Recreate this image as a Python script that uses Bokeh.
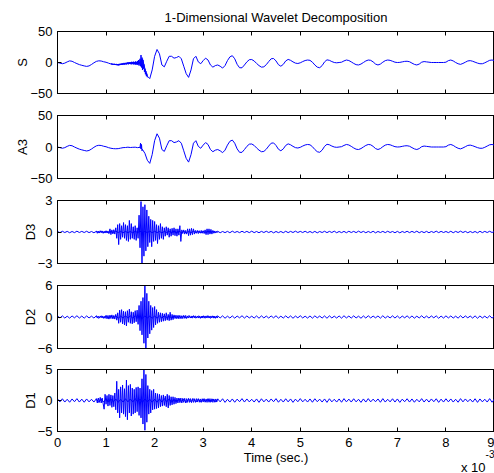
import numpy as np
from bokeh.plotting import figure
from bokeh.layouts import column
from bokeh.models import Range1d, FixedTicker, LinearAxis, Title
from bokeh.embed import file_html
from bokeh.resources import INLINE

FONT = "Liberation Sans"
BLUE = "#0000ff"

TITLE = "1-Dimensional Wavelet Decomposition"
X_TICKS = [0, 1, 2, 3, 4, 5, 6, 7, 8, 9]
PANEL_LABELS = ["S", "A3", "D3", "D2", "D1"]
PANEL_LIMITS = [50, 50, 3, 6, 5]
X_LABEL = "Time (sec.)"
X_SCALE_TEXT = "x 10"
X_SCALE_EXP = "-3"

# time grid (ms) for the 0.05 ms samples
t_grid = np.round(np.arange(181) * 0.05, 4)

# signal S (smooth part, 0.05 ms samples)
S = [0, -1.0, -2.0, -1.0, 1.0, 2.6, 2.0, 0.0, -1.8, -3.4, -4.5, -5.5, -6.3, -5.5, -3.2, -0.5, 1.8, 2.7, 2.4, 1.2,
     0.4, -1.0, -2.4, -3.0, -3.4, -3.8, -3.3, -2.4, -1.6, -1.0, -0.6, -0.6, -1.0, -1.6, -0.5, 6.0, -10.0, -22.0, -26.0, -12.0,
     10.0, 21.0, 14.0, -4.0, -7.0, 2.0, 10.0, 10.0, 7.0, 8.0, 10.0, 6.0, -6.0, -18.0, -24.0, -12.0, 6.0, 10.0, 1.0, -2.0,
     3.0, 7.0, 4.0, -4.0, -7.5, -5.0, -4.0, -6.0, -9.0, -5.0, 3.0, 9.0, 11.0, 6.0, -3.0, -8.5, -8.5, -4.0, 1.0, 4.5,
     4.8, 2.5, -1.5, -5.0, -7.5, -7.0, -3.5, 1.5, 6.0, 6.5, 2.5, -3.5, -6.0, -3.0, 2.5, 5.0, 3.5, 1.0, -1.0, -1.6,
     -0.5, 1.5, 3.2, 4.0, 3.5, 0.5, -4.0, -7.5, -8.4, -5.0, 1.0, 4.3, 3.5, 1.5, 0.0, -0.5, 0.0, 0.5, 2.5, 4.0,
     3.2, 1.0, -1.5, -3.5, -4.0, -2.5, 0.0, 2.5, 4.0, 3.5, 1.0, -2.5, -4.0, -2.5, 0.5, 3.0, 4.0, 3.5, 2.0, 0.5,
     0.0, 0.2, 1.0, 1.8, 2.0, 1.2, -1.0, -3.0, -4.0, -2.5, 0.5, 1.5, 1.0, 0.5, 0.0, 0.0, 0.0, 0.0, 0.0, 0.0,
     0.5, 3.0, 4.0, 2.5, 0.0, -2.0, -3.0, -1.5, 0.5, 2.5, 3.0, 2.0, 0.5, -1.0, -2.0, -2.0, -0.5, 1.5, 3.5, 4.0, 3.0]

# signal S, noisy stretch 1.10 - 1.85 ms (0.01 ms samples)
S_burst_start = 1.10
S_burst = [-2.4, -1.6, -3.2, -2.0, -3.4, -2.2, -3.6, -2.0, -3.8, -2.4,
           -4.0, -2.2, -4.2, -2.6, -4.4, -2.4, -4.6, -2.2, -4.2, -2.0,
           -4.0, -1.8, -3.6, -1.2, -3.8, -1.4, -3.2, -0.6, -3.4, -0.8,
           -3.0, -0.4, -3.2, -0.6, -2.6, 0.4, -3.0, 0.0, -2.4, 0.6,
           -2.6, 0.4, -3.0, 1.2, -2.2, 0.8, -3.2, 1.4, -2.6, 0.6,
           -3.6, 1.8, -3.0, 1.0, -4.0, 2.5, -3.5, 4.0, -5.0, 2.0,
           6.0, -6.0, 12.0, -8.0, 8.0, -12.0, 4.0, -10.0, -3.0, -15.0,
           -10.0, -19.0, -14.0, -22.0, -18.0, -24.0]

# approximation A3 (0.05 ms samples)
A3 = [0, -1.0, -2.0, -1.0, 1.0, 2.6, 2.0, 0.0, -1.8, -3.4, -4.5, -5.5, -6.3, -5.5, -3.2, -0.5, 1.8, 2.7, 2.4, 1.2,
      0.4, -1.0, -2.0, -2.6, -2.8, -2.6, -1.8, -1.0, -0.8, -0.3, -0.8, -0.5, -0.3, -1.0, -0.5, -4.0, -10.0, -21.0, -26.0, -12.0,
      10.0, 21.0, 14.0, -4.0, -7.0, 2.0, 10.0, 10.0, 7.0, 8.0, 10.0, 6.0, -6.0, -18.0, -24.0, -12.0, 6.0, 10.0, 1.0, -2.0,
      3.0, 7.0, 4.0, -4.0, -7.5, -5.0, -4.0, -6.0, -9.0, -5.0, 3.0, 9.0, 11.0, 6.0, -3.0, -8.5, -8.5, -4.0, 1.0, 4.5,
      4.8, 2.5, -1.5, -5.0, -7.5, -7.0, -3.5, 1.5, 6.0, 6.5, 2.5, -3.5, -6.0, -3.0, 2.5, 5.0, 3.5, 1.0, -1.0, -1.6,
      -0.5, 1.5, 3.2, 4.0, 3.5, 0.5, -4.0, -7.5, -8.4, -5.0, 1.0, 4.3, 3.5, 1.5, 0.0, -0.5, 0.0, 0.5, 2.5, 4.0,
      3.2, 1.0, -1.5, -3.5, -4.0, -2.5, 0.0, 2.5, 4.0, 3.5, 1.0, -2.5, -4.0, -2.5, 0.5, 3.0, 4.0, 3.5, 2.0, 0.5,
      0.0, 0.2, 1.0, 1.8, 2.0, 1.2, -1.0, -3.0, -4.0, -2.5, 0.5, 1.5, 1.0, 0.5, 0.0, 0.0, 0.0, 0.0, 0.0, 0.0,
      0.5, 3.0, 4.0, 2.5, 0.0, -2.0, -3.0, -1.5, 0.5, 2.5, 3.0, 2.0, 0.5, -1.0, -2.0, -2.0, -0.5, 1.5, 3.5, 4.0, 3.0]

# A3 small notch near 1.7 ms
A3_notch_t = [1.70, 1.71, 1.72, 1.73, 1.74, 1.75]
A3_notch = [-0.5, 6.0, -3.0, 4.0, -6.0, -4.0]

# detail noise floors (0.05 ms samples)
D3_floor = [0.05, -0.06, 0.07, -0.05, 0.06, -0.07, 0.05, -0.06, 0.08, -0.05, 0.06, -0.05, 0.07, -0.06, 0.05, -0.07, 0.06, -0.05, 0.07, -0.06,
            0.05, -0.07, 0.06, -0.06, 0.08, -0.05, 0.06, -0.07, 0.05, -0.06, 0.05, -0.08, 0.06, -0.05, 0.07, -0.05, 0.06, -0.06, 0.08, -0.07,
            0.07, -0.06, 0.05, -0.08, 0.05, -0.06, 0.07, -0.05, 0.06, -0.05, 0.08, -0.06, 0.05, -0.07, 0.05, -0.06, 0.07, -0.05, 0.06, -0.08,
            0.06, -0.07, 0.08, -0.05, 0.06, -0.06, 0.07, -0.07, 0.05, -0.06, 0.06, -0.07, 0.08, -0.05, 0.05, -0.06, 0.07, -0.05, 0.06, -0.06,
            0.08, -0.06, 0.05, -0.07, 0.06, -0.05, 0.07, -0.05, 0.06, -0.08, 0.05, -0.06, 0.05, -0.07, 0.07, -0.06, 0.06, -0.05, 0.08, -0.05,
            0.06, -0.05, 0.07, -0.06, 0.05, -0.07, 0.06, -0.08, 0.05, -0.05, 0.07, -0.06, 0.06, -0.05, 0.08, -0.07, 0.05, -0.06, 0.06, -0.07,
            0.07, -0.05, 0.06, -0.06, 0.08, -0.05, 0.06, -0.07, 0.05, -0.06, 0.07, -0.08, 0.05, -0.05, 0.06, -0.06, 0.07, -0.05, 0.05, -0.07,
            0.06, -0.08, 0.05, -0.05, 0.07, -0.06, 0.06, -0.05, 0.08, -0.07, 0.05, -0.06, 0.06, -0.07, 0.05, -0.05, 0.08, -0.06, 0.06, -0.05,
            0.05, -0.06, 0.07, -0.07, 0.06, -0.05, 0.08, -0.05, 0.06, -0.07, 0.05, -0.06, 0.05, -0.08, 0.07, -0.06, 0.06, -0.05, 0.07, -0.05, 0.06]
D2_floor = [0.20, -0.18, 0.22, -0.20, 0.15, -0.22, 0.20, -0.16, 0.24, -0.20, 0.18, -0.22, 0.20, -0.18, 0.16, -0.20, 0.22, -0.24, 0.18, -0.20,
            0.22, -0.20, 0.18, -0.16, 0.20, -0.24, 0.16, -0.20, 0.22, -0.18, 0.20, -0.20, 0.24, -0.16, 0.18, -0.22, 0.20, -0.18, 0.16, -0.22,
            0.18, -0.22, 0.20, -0.20, 0.24, -0.16, 0.20, -0.22, 0.16, -0.20, 0.22, -0.18, 0.18, -0.24, 0.20, -0.16, 0.22, -0.20, 0.18, -0.20,
            0.20, -0.16, 0.24, -0.22, 0.18, -0.20, 0.20, -0.18, 0.22, -0.24, 0.16, -0.20, 0.20, -0.22, 0.18, -0.16, 0.24, -0.20, 0.20, -0.18,
            0.16, -0.20, 0.20, -0.24, 0.22, -0.18, 0.18, -0.20, 0.20, -0.16, 0.24, -0.22, 0.16, -0.20, 0.22, -0.18, 0.20, -0.24, 0.18, -0.16,
            0.24, -0.18, 0.16, -0.20, 0.20, -0.22, 0.22, -0.16, 0.18, -0.20, 0.20, -0.24, 0.22, -0.18, 0.16, -0.20, 0.20, -0.22, 0.24, -0.18,
            0.18, -0.20, 0.22, -0.18, 0.16, -0.24, 0.20, -0.20, 0.24, -0.18, 0.18, -0.16, 0.20, -0.22, 0.24, -0.20, 0.16, -0.18, 0.22, -0.20,
            0.20, -0.24, 0.18, -0.16, 0.22, -0.20, 0.20, -0.22, 0.16, -0.18, 0.24, -0.20, 0.18, -0.20, 0.20, -0.16, 0.22, -0.24, 0.18, -0.20,
            0.22, -0.18, 0.20, -0.20, 0.16, -0.22, 0.24, -0.18, 0.20, -0.16, 0.18, -0.20, 0.22, -0.24, 0.20, -0.18, 0.16, -0.20, 0.24, -0.22, 0.20]
D1_floor = [0.25, -0.22, 0.28, -0.25, 0.20, -0.28, 0.25, -0.20, 0.30, -0.25, 0.22, -0.28, 0.25, -0.22, 0.20, -0.25, 0.28, -0.30, 0.22, -0.25,
            0.28, -0.25, 0.22, -0.20, 0.25, -0.30, 0.20, -0.25, 0.28, -0.22, 0.25, -0.25, 0.30, -0.20, 0.22, -0.28, 0.25, -0.22, 0.20, -0.28,
            0.22, -0.28, 0.25, -0.25, 0.30, -0.20, 0.25, -0.28, 0.20, -0.25, 0.28, -0.22, 0.22, -0.30, 0.25, -0.20, 0.28, -0.25, 0.22, -0.25,
            0.25, -0.20, 0.30, -0.28, 0.22, -0.25, 0.25, -0.22, 0.28, -0.30, 0.20, -0.25, 0.25, -0.28, 0.22, -0.20, 0.30, -0.25, 0.25, -0.22,
            0.20, -0.25, 0.25, -0.30, 0.28, -0.22, 0.22, -0.25, 0.25, -0.20, 0.30, -0.28, 0.20, -0.25, 0.28, -0.22, 0.25, -0.30, 0.22, -0.20,
            0.30, -0.22, 0.20, -0.25, 0.25, -0.28, 0.28, -0.20, 0.22, -0.25, 0.25, -0.30, 0.28, -0.22, 0.20, -0.25, 0.25, -0.28, 0.30, -0.22,
            0.22, -0.25, 0.28, -0.22, 0.20, -0.30, 0.25, -0.25, 0.30, -0.22, 0.22, -0.20, 0.25, -0.28, 0.30, -0.25, 0.20, -0.22, 0.28, -0.25,
            0.25, -0.30, 0.22, -0.20, 0.28, -0.25, 0.25, -0.28, 0.20, -0.22, 0.30, -0.25, 0.22, -0.25, 0.25, -0.20, 0.28, -0.30, 0.22, -0.25,
            0.28, -0.22, 0.25, -0.25, 0.20, -0.28, 0.30, -0.22, 0.25, -0.20, 0.22, -0.25, 0.28, -0.30, 0.25, -0.22, 0.20, -0.25, 0.30, -0.28, 0.25]

# detail bursts, 0.80 - 3.30 ms (0.02 ms samples)
burst_start = 0.80
D3_burst = [0.10, -0.12, 0.08, -0.10, 0.12, -0.08, 0.10, -0.12, 0.08, -0.10,
            0.12, -0.10, 0.10, -0.15, 0.30, -0.25, 0.20, -0.18, 0.22, -0.20,
            0.40, -0.60, 0.70, -1.20, 0.80, -0.70, 0.60, -0.50, 0.90, -0.60,
            0.70, -0.80, 0.60, -0.90, 1.10, -0.70, 0.80, -0.60, 0.50, -0.70,
            0.60, -0.80, 0.40, -0.60, 1.60, -1.50, 2.90, -3.10, 2.40, -2.30,
            2.60, -1.80, 2.10, -1.40, 1.50, -1.00, 1.20, -1.40, 1.10, -0.90,
            1.00, -0.80, 0.70, -1.10, 0.60, -0.70, 0.80, -0.60, 0.50, -0.70,
            0.40, -0.40, 0.50, -0.30, 0.40, -0.50, 0.30, -0.40, 0.35, -0.30,
            0.40, -0.35, 0.30, -0.40, 0.30, -0.30, 0.60, -0.90, 0.20, -0.15,
            0.20, -0.20, 0.15, -0.20, 0.30, -0.35, 0.30, -0.30, 0.35, -0.25,
            0.30, -0.20, 0.15, -0.12, 0.15, -0.15, 0.12, -0.10, 0.15, -0.12,
            0.12, -0.15, 0.20, -0.25, 0.30, -0.25, 0.30, -0.20, 0.25, -0.20,
            0.15, -0.12, 0.10, -0.08, 0.06, -0.06]
D2_burst = [0.20, -0.20, 0.15, -0.20, 0.20, -0.15, 0.20, -0.20, 0.15, -0.25,
            0.30, -0.35, 0.30, -0.40, 0.35, -0.30, 0.40, -0.35, 0.30, -0.40,
            0.50, -0.60, 0.80, -1.20, 1.30, -1.00, 1.40, -1.30, 1.10, -1.50,
            1.00, -1.70, 1.20, -1.00, 1.50, -1.20, 1.00, -1.30, 0.90, -1.10,
            1.20, -0.90, 1.30, -1.40, 2.20, -2.60, 3.00, -3.40, 3.70, -5.00,
            7.00, -7.00, 4.50, -4.00, 3.00, -3.20, 2.20, -2.50, 1.80, -2.00,
            2.00, -1.50, 1.40, -1.20, 0.90, -1.00, 0.80, -0.90, 0.70, -0.80,
            0.60, -0.70, 0.80, -0.60, 0.50, -0.70, 0.90, -0.60, 0.50, -0.50,
            0.40, -0.30, 0.35, -0.30, 0.30, -0.35, 0.30, -0.30, 0.25, -0.30,
            0.30, -0.25, 0.30, -0.25, 0.20, -0.20, 0.25, -0.20, 0.20, -0.22,
            0.20, -0.18, 0.22, -0.20, 0.18, -0.20, 0.20, -0.22, 0.18, -0.20,
            0.20, -0.22, 0.20, -0.18, 0.22, -0.20, 0.18, -0.20, 0.20, -0.18,
            0.20, -0.22, 0.18, -0.20, 0.20, -0.20]
D1_burst = [0.30, -0.40, 0.40, -0.30, 0.50, -0.40, 0.40, -0.50, -1.40, 1.00,
            -0.60, 0.80, -0.90, 1.00, -0.80, 0.90, -1.10, 0.80, -1.00, 1.20,
            -1.50, 3.10, -2.00, 1.80, -2.80, 2.20, -2.00, 2.50, -2.20, 1.90,
            -2.60, 3.30, -3.10, 2.40, -2.00, 2.60, -2.50, 2.00, -2.20, 1.80,
            -2.00, 2.10, -1.80, 2.20, -2.40, 2.00, -2.80, 3.50, -3.80, 5.00,
            -4.80, 4.20, -3.50, 2.40, -2.20, 1.80, -2.00, 1.60, -1.50, 1.80,
            -1.40, 1.20, -1.30, 1.10, -1.20, 1.00, -1.00, 0.80, -0.90, 0.90,
            -0.80, 0.70, -1.00, 1.00, -1.20, 0.80, -0.80, 0.60, -0.70, 0.60,
            -0.60, 0.50, -0.50, 0.40, -0.40, 0.40, -0.35, 0.40, -0.40, 0.35,
            -0.30, 0.35, -0.40, 0.30, -0.30, 0.35, -0.30, 0.30, -0.35, 0.30,
            -0.30, 0.28, -0.30, 0.30, -0.25, 0.30, -0.28, 0.25, -0.30, 0.28,
            -0.25, 0.30, -0.28, 0.25, -0.30, 0.25, -0.28, 0.30, -0.25, 0.28,
            -0.30, 0.25, -0.28, 0.25, -0.25, 0.28]


def style_axis(ax, show_labels):
    ax.major_tick_in = 4
    ax.major_tick_out = 0
    ax.minor_tick_line_color = None
    ax.axis_line_color = "black"
    ax.major_tick_line_color = "black"
    ax.major_label_text_font = FONT
    ax.axis_label_text_font = FONT
    ax.axis_label_text_font_size = "13px"
    ax.axis_label_text_font_style = "normal"
    ax.axis_label_text_color = "black"
    if show_labels:
        ax.major_label_text_font_size = "13px"
        ax.major_label_text_color = "black"
    else:
        ax.major_label_text_font_size = "0px"
        ax.major_label_text_color = None
        ax.major_label_standoff = 0


def make_panel(height, b_top, b_bottom, ylim, ylabel, last=False):
    p = figure(width=494, height=height, output_backend="svg", toolbar_location=None,
               x_range=Range1d(0, 9), y_range=Range1d(-ylim, ylim),
               min_border_left=57, min_border_right=0,
               min_border_top=b_top, min_border_bottom=b_bottom,
               background_fill_color="white", border_fill_color="white")
    p.outline_line_color = "black"
    p.outline_line_width = 1
    p.xgrid.visible = False
    p.ygrid.visible = False
    xax = p.below[0]
    yax = p.left[0]
    xax.ticker = FixedTicker(ticks=X_TICKS)
    yax.ticker = FixedTicker(ticks=[-ylim, 0, ylim])
    style_axis(xax, last)
    style_axis(yax, True)
    yax.major_label_standoff = 5
    yax.axis_label = ylabel
    yax.axis_label_standoff = -3
    top = LinearAxis(ticker=FixedTicker(ticks=X_TICKS))
    style_axis(top, False)
    p.add_layout(top, "above")
    if last:
        xax.major_label_standoff = 6
        xax.axis_label = X_LABEL
        xax.axis_label_standoff = 0
    return p


p1 = make_panel(104, 31, 11, PANEL_LIMITS[0], PANEL_LABELS[0])
p1.title.text = TITLE
p1.title.align = "center"
p1.title.vertical_align = "top"
p1.title.text_font = FONT
p1.title.text_font_size = "13px"
p1.title.text_font_style = "normal"
p1.title.text_color = "black"
p1.title.standoff = 10
p1.line(t_grid, S, line_color=BLUE, line_width=1)
p1.line(S_burst_start + 0.01 * np.arange(len(S_burst)), S_burst, line_color=BLUE, line_width=1)

p2 = make_panel(85, 11, 11, PANEL_LIMITS[1], PANEL_LABELS[1])
p2.line(t_grid, A3, line_color=BLUE, line_width=1)
p2.line(A3_notch_t, A3_notch, line_color=BLUE, line_width=1)

p3 = make_panel(85, 11, 11, PANEL_LIMITS[2], PANEL_LABELS[2])
p3.line(t_grid, D3_floor, line_color=BLUE, line_width=1)
p3.line(burst_start + 0.02 * np.arange(len(D3_burst)), D3_burst, line_color=BLUE, line_width=1)

p4 = make_panel(84, 11, 10, PANEL_LIMITS[3], PANEL_LABELS[3])
p4.line(t_grid, D2_floor, line_color=BLUE, line_width=1)
p4.line(burst_start + 0.02 * np.arange(len(D2_burst)), D2_burst, line_color=BLUE, line_width=1)

p5 = make_panel(115, 11, 42, PANEL_LIMITS[4], PANEL_LABELS[4], last=True)
p5.line(t_grid, D1_floor, line_color=BLUE, line_width=1)
p5.line(burst_start + 0.02 * np.arange(len(D1_burst)), D1_burst, line_color=BLUE, line_width=1)
p5.add_layout(Title(text=X_SCALE_TEXT, align="right", vertical_align="top", offset=9, standoff=-16,
                    text_font=FONT, text_font_size="13px", text_font_style="normal",
                    text_color="black"), "below")
p5.add_layout(Title(text=X_SCALE_EXP, align="right", vertical_align="top", offset=0, standoff=-38,
                    text_font=FONT, text_font_size="10px", text_font_style="normal",
                    text_color="black"), "below")

layout = column(p1, p2, p3, p4, p5, spacing=0)
open("out.html", "w").write(file_html(layout, INLINE))
